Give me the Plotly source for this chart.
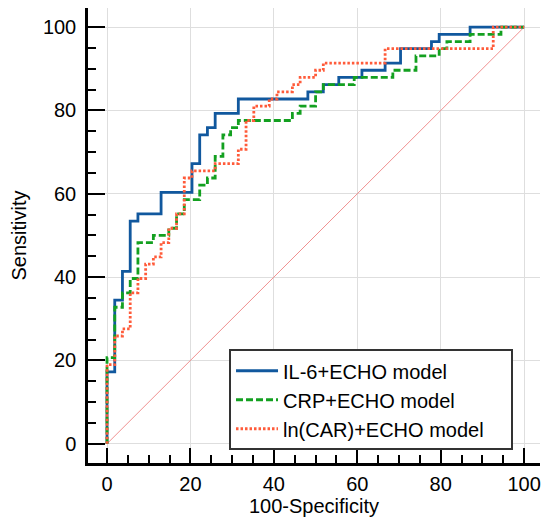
import plotly.graph_objects as go

# ROC points (100-Specificity, Sensitivity)
il6_fpr = [0, 0, 1.85, 3.70, 5.56, 7.41, 12.96, 20.37, 22.22, 24.07, 25.93, 31.48,
           48.15, 51.85, 55.56, 61.11, 66.67, 70.37, 77.78, 79.63, 87.04, 100]
il6_sens = [0, 17.24, 34.48, 41.38, 53.45, 55.17, 60.34, 67.24, 74.14, 75.86, 79.31, 82.76,
            84.48, 86.21, 87.93, 89.66, 91.38, 94.83, 96.55, 98.28, 100, 100]

crp_fpr = [0, 0, 1.85, 3.70, 5.56, 7.41, 11.11, 14.81, 16.67, 18.52, 22.22, 24.07, 25.93,
           27.78, 29.63, 31.48, 44.44, 46.30, 50.00, 51.85, 59.26, 68.52, 74.07, 79.63,
           81.48, 87.04, 94.44, 100]
crp_sens = [0, 20.69, 32.76, 36.21, 39.66, 48.28, 50.00, 51.72, 55.17, 58.62, 62.07, 63.79, 68.97,
            74.14, 75.86, 77.59, 79.31, 81.03, 84.48, 86.21, 87.93, 89.66, 93.10, 94.83,
            96.55, 98.28, 100, 100]

car_fpr = [0, 0, 1.85, 3.70, 5.56, 7.41, 9.26, 11.11, 12.96, 14.81, 16.67, 18.52, 20.37,
           25.93, 31.48, 33.33, 35.19, 38.89, 40.74, 44.44, 46.30, 50.00, 51.85, 66.67,
           92.59, 100]
car_sens = [0, 18.97, 25.86, 27.59, 36.21, 39.66, 43.10, 44.83, 48.28, 51.72, 55.17, 63.79, 65.52,
            67.24, 70.69, 77.59, 81.03, 82.76, 84.48, 86.21, 87.93, 89.66, 91.38, 94.83,
            100, 100]

ref_line = [0, 100]

font_family = "Arial, Liberation Sans, sans-serif"
pad = "\u00a0" * 4  # extra room on the right of the legend box

fig = go.Figure()

# chance line
fig.add_trace(go.Scatter(x=ref_line, y=ref_line, mode="lines",
                         line=dict(color="#f09090", width=1), showlegend=False,
                         hoverinfo="skip"))

fig.add_trace(go.Scatter(x=il6_fpr, y=il6_sens, mode="lines", name="IL-6+ECHO model",
                         line=dict(color="#11589e", width=2.8, shape="hv")))
fig.add_trace(go.Scatter(x=crp_fpr, y=crp_sens, mode="lines", name="CRP+ECHO model",
                         line=dict(color="#13a020", width=2.8, shape="hv", dash="7px,3px")))
fig.add_trace(go.Scatter(x=car_fpr, y=car_sens, mode="lines", name="ln(CAR)+ECHO model" + pad,
                         line=dict(color="#ff5b3a", width=2.8, shape="hv", dash="2.5px,2px")))

axis_common = dict(
    automargin=False,
    showline=True, linecolor="black", linewidth=2.5,
    showgrid=True, gridcolor="#dedede", gridwidth=1,
    zeroline=False,
    ticks="inside", tickcolor="black", tickwidth=2,
    tick0=0, dtick=20,
    minor=dict(ticks="inside", ticklen=8, tickwidth=2, tickcolor="black", dtick=5, showgrid=False),
    tickfont=dict(size=20, color="black", family=font_family),
)

# page body has an 8px margin, so the figure is sized to fit inside the window
fig.update_layout(
    width=534, height=510,
    margin=dict(l=80, r=2, t=0, b=55),
    plot_bgcolor="white", paper_bgcolor="white",
    font=dict(family=font_family, size=20, color="black"),
    xaxis=dict(range=[-4.56, 103.8], ticklen=15, ticklabelstandoff=1,
               title=dict(text="100-Specificity", font=dict(size=20), standoff=6),
               **axis_common),
    yaxis=dict(range=[-4.63, 104.6], ticklen=17, ticklabelstandoff=5,
               title=dict(text="Sensitivity", font=dict(size=20), standoff=16),
               **axis_common),
    legend=dict(x=0.312, y=0.25, xanchor="left", yanchor="top",
                bordercolor="#333333", borderwidth=2, bgcolor="white",
                font=dict(size=20, color="black", family=font_family),
                itemwidth=42, tracegroupgap=0),
)

fig.write_html("out.html")
